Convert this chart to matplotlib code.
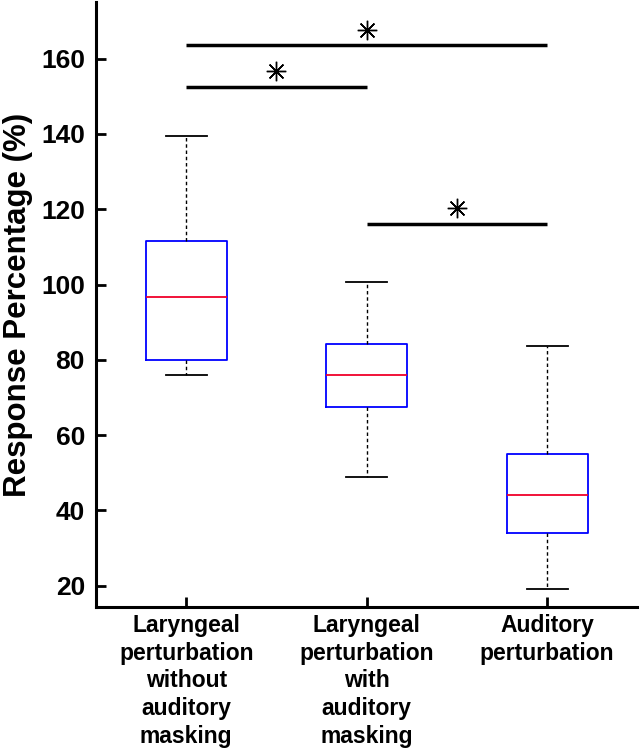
import matplotlib
matplotlib.use("Agg")
import matplotlib.pyplot as plt

categories = ["Laryngeal\nperturbation\nwithout\nauditory\nmasking",
              "Laryngeal\nperturbation\nwith\nauditory\nmasking",
              "Auditory\nperturbation"]
whisker_low = [76.1, 48.9, 19.0]
q1 = [80.0, 67.5, 34.1]
median = [96.7, 76.1, 44.0]
q3 = [111.7, 84.3, 55.0]
whisker_high = [139.5, 100.8, 83.6]
yticks = [20, 40, 60, 80, 100, 120, 140, 160]

# significance: (group a, group b, bar height, star height)
sig_a = [1, 1, 2]
sig_b = [3, 2, 3]
sig_bar = [163.7, 152.5, 116.2]
sig_star = [167.7, 156.7, 120.3]

plt.rcParams['font.family'] = ['Liberation Sans', 'DejaVu Sans']
plt.rcParams['font.weight'] = 'bold'

fig = plt.figure(figsize=(6.4, 7.5), dpi=100)
ax = fig.add_axes([0.150, 0.191, 0.846, 0.806])

stats = []
for i in range(len(categories)):
    stats.append(dict(whislo=whisker_low[i], q1=q1[i], med=median[i],
                      q3=q3[i], whishi=whisker_high[i], fliers=[]))
ax.bxp(stats, positions=[1, 2, 3], widths=0.45, capwidths=0.225,
       showfliers=False,
       boxprops=dict(color='#0000ff', linewidth=1.3),
       medianprops=dict(color='#f0002a', linewidth=1.3),
       whiskerprops=dict(color='black', linewidth=1.0, linestyle=(0, (2.5, 2))),
       capprops=dict(color='black', linewidth=1.3))

for a, b, yb, ys in zip(sig_a, sig_b, sig_bar, sig_star):
    ax.plot([a, b], [yb, yb], color='black', linewidth=2.5, solid_capstyle='butt')
    ax.plot([(a + b) / 2], [ys], marker=(8, 2, 0), markersize=14,
            markeredgewidth=1.0, color='black', linestyle='none')

ax.set_xlim(0.5, 3.5)
ax.set_ylim(14.4, 175)
ax.set_yticks(yticks)
ax.set_yticklabels([str(v) for v in yticks], fontsize=19, fontweight='bold')
ax.set_xticks([1, 2, 3])
ax.set_xticklabels(categories, fontsize=16.5, fontweight='bold',
                   linespacing=1.27)
ax.tick_params(direction='in', length=7, width=2.0)
ax.tick_params(axis='y', pad=8)
ax.tick_params(axis='x', pad=5)
for s in ['top', 'right']:
    ax.spines[s].set_visible(False)
for s in ['left', 'bottom']:
    ax.spines[s].set_linewidth(2.2)
ax.set_ylabel("Response Percentage (%)", fontsize=22.5, fontweight='bold',
              labelpad=6)

fig.savefig("out.png", dpi=100)
